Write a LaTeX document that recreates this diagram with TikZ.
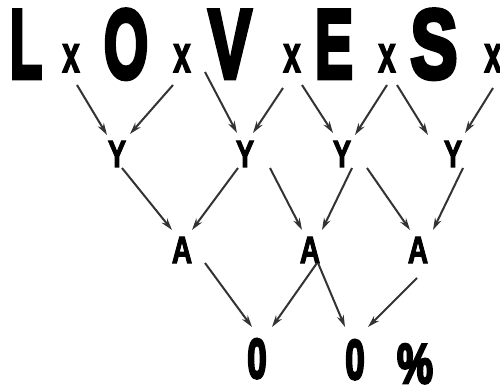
\documentclass[tikz,border=0pt]{standalone}
\usepackage{fontspec}
\usepackage{graphicx}
\setmainfont{Liberation Sans}
\newfontfamily\imp{Liberation Sans Bold}[FakeBold=3]
\newfontfamily\impheavy{Liberation Sans Bold}[FakeBold=5]
\usetikzlibrary{arrows.meta}
\newcommand\sqz[2]{\scalebox{#1}[1]{#2}}
\tikzset{
  big/.style={font=\fontsize{98}{98}\impheavy, anchor=base, inner sep=0pt},
  times/.style={font=\fontsize{52}{52}\imp, anchor=base, inner sep=0pt},
  mid/.style={font=\fontsize{38}{38}\imp, anchor=base, inner sep=0pt},
  res/.style={font=\fontsize{56}{56}\impheavy, anchor=base, inner sep=0pt},
  arr/.style={draw=black!80, line width=2pt, -{Stealth[length=12pt,width=7pt]}}
}
\begin{document}
\begin{tikzpicture}[x=1pt,y=-1pt]
\useasboundingbox[fill=white] (0,0) rectangle (500,390);
% top row
\node[big] (L) at (26,78) {\sqz{0.54}{L}};
\node[times] (x1) at (71,72) {\sqz{0.6}{x}};
\node[big] (O) at (126,78) {\sqz{0.58}{O}};
\node[times] (x2) at (182,72) {\sqz{0.6}{x}};
\node[big] (V) at (230,78) {\sqz{0.66}{V}};
\node[times] (x3) at (292,72) {\sqz{0.6}{x}};
\node[big] (E) at (334,78) {\sqz{0.58}{E}};
\node[times] (x4) at (387,72) {\sqz{0.6}{x}};
\node[big] (S) at (434,78) {\sqz{0.72}{S}};
\node[times] (x5) at (493,72) {\sqz{0.6}{x}};
% Y row
\node[mid] (Y1) at (117,167) {\sqz{0.72}{Y}};
\node[mid] (Y2) at (245,167) {\sqz{0.72}{Y}};
\node[mid] (Y3) at (342,167) {\sqz{0.72}{Y}};
\node[mid] (Y4) at (453,167) {\sqz{0.72}{Y}};
% A row
\node[mid] (A1) at (182,263) {\sqz{0.74}{A}};
\node[mid] (A2) at (310,263) {\sqz{0.74}{A}};
\node[mid] (A3) at (418,263) {\sqz{0.74}{A}};
% result row
\node[res] (R1) at (257,378) {\sqz{0.62}{0}};
\node[res] (R2) at (355,379) {\sqz{0.62}{0}};
\node[res] (P) at (415,383) {\sqz{0.72}{\%}};
% arrow end points
\coordinate (s1) at (77,85);   \coordinate (e1) at (107,135);
\coordinate (s2) at (173,85);  \coordinate (e2) at (130,134);
\coordinate (s3) at (205,72);  \coordinate (e3) at (237,133);
\coordinate (s4) at (283,88);  \coordinate (e4) at (253,133);
\coordinate (s5) at (302,85);  \coordinate (e5) at (333,133);
\coordinate (s6) at (387,85);  \coordinate (e6) at (355,135);
\coordinate (s7) at (397,85);  \coordinate (e7) at (428,135);
\coordinate (s8) at (493,88);  \coordinate (e8) at (465,133);
\coordinate (t1) at (122,168); \coordinate (f1) at (172,230);
\coordinate (t2) at (238,168); \coordinate (f2) at (192,230);
\coordinate (t3) at (270,168); \coordinate (f3) at (302,230);
\coordinate (t4) at (352,168); \coordinate (f4) at (322,230);
\coordinate (t5) at (367,168); \coordinate (f5) at (410,230);
\coordinate (t6) at (463,168); \coordinate (f6) at (433,230);
\coordinate (u1) at (205,263); \coordinate (g1) at (252,327);
\coordinate (u2) at (317,263); \coordinate (g2) at (272,327);
\coordinate (u3) at (318,263); \coordinate (g3) at (345,327);
\coordinate (u4) at (417,278); \coordinate (g4) at (368,327);
\foreach \a/\b in {s1/e1,s2/e2,s3/e3,s4/e4,s5/e5,s6/e6,s7/e7,s8/e8,
                   t1/f1,t2/f2,t3/f3,t4/f4,t5/f5,t6/f6,
                   u1/g1,u2/g2,u3/g3,u4/g4}
  \draw[arr] (\a) -- (\b);
\end{tikzpicture}
\end{document}
